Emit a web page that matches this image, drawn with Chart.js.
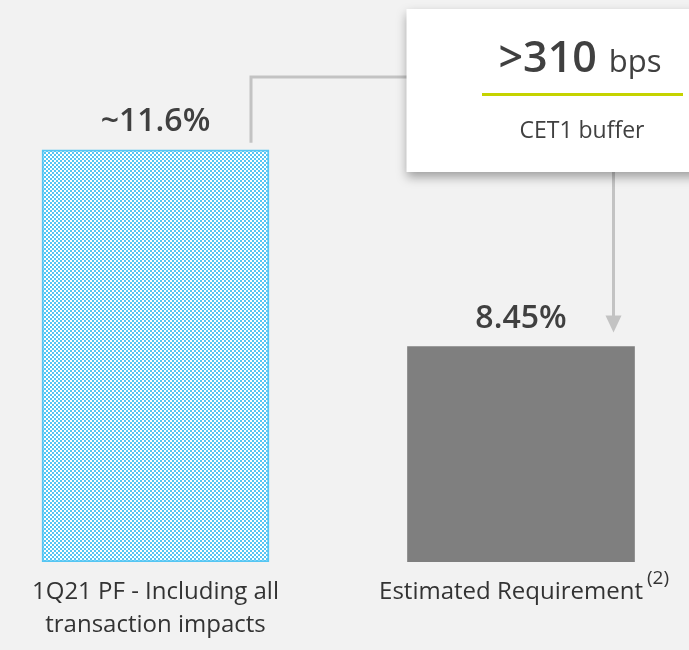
<!DOCTYPE html>
<html lang="en">
  <head>
    <title>CET1 buffer</title>
    <meta charset="utf-8" />
    <script src="https://cdn.jsdelivr.net/npm/chart.js@4.4.1/dist/chart.umd.min.js"></script>
    <style>
      html, body {
        margin: 0;
        padding: 0;
        background: #f2f2f2;
      }
      #chart {
        display: block;
      }
    </style>
  </head>
  <body>
    <canvas id="chart" width="689" height="650"></canvas>

    <script>
      // chart data
      var categories = [["1Q21 PF - Including all", "transaction impacts"], ["Estimated Requirement"]];
      var footnotes = ["", "(2)"];
      var values = [11.6, 8.45];
      var valueLabels = ["~11.6%", "8.45%"];
      var bufferValue = ">310";
      var bufferUnit = "bps";
      var bufferLabel = "CET1 buffer";

      var FONT = "'Open Sans', 'Noto Sans', sans-serif";
      var TEXT = "#404040";
      var LINE = "#c3c3c3";

      var canvas = document.getElementById("chart");
      var ctx = canvas.getContext("2d");

      // checkered fill for the first bar
      var tile = document.createElement("canvas");
      tile.width = 4;
      tile.height = 4;
      var t = tile.getContext("2d");
      t.fillStyle = "#ffffff";
      t.fillRect(0, 0, 4, 4);
      t.fillStyle = "#55c6f3";
      t.fillRect(0, 0, 2, 2);
      t.fillRect(2, 2, 2, 2);
      var checker = ctx.createPattern(tile, "repeat");

      var annotations = {
        id: "annotations",
        afterDatasetsDraw: function (chart) {
          var c = chart.ctx;
          var bars = chart.getDatasetMeta(0).data;
          var b1 = bars[0], b2 = bars[1];
          var half1 = b1.width / 2, half2 = b2.width / 2;
          var boxLeft = b2.x - half2 - 1;
          var boxTop = 9, boxBottom = 172;
          var elbowY = 77;

          c.save();

          // value labels above bars
          c.fillStyle = TEXT;
          c.textAlign = "center";
          c.textBaseline = "alphabetic";
          c.font = "600 32px " + FONT;
          bars.forEach(function (bar, i) {
            c.fillText(valueLabels[i], bar.x, bar.y - 19);
          });

          // category labels below
          c.fillStyle = "#333333";
          var base = chart.chartArea.bottom;
          bars.forEach(function (bar, i) {
            c.font = "24px " + FONT;
            var lines = categories[i];
            if (footnotes[i]) {
              var w = c.measureText(lines[0]).width;
              var x0 = bar.x - w / 2 - 10;
              c.textAlign = "left";
              c.fillText(lines[0], x0, base + 37);
              c.font = "19px " + FONT;
              c.fillText(footnotes[i], x0 + w + 4, base + 22);
              c.textAlign = "center";
            } else {
              lines.forEach(function (line, j) {
                c.fillText(line, bar.x, base + 37 + j * 33);
              });
            }
          });

          // connector from first bar to the box
          c.strokeStyle = LINE;
          c.lineWidth = 3;
          var lx = b1.x + half1 - 18;
          c.beginPath();
          c.moveTo(lx, b1.y - 7);
          c.lineTo(lx, elbowY);
          c.lineTo(boxLeft + 2, elbowY);
          c.stroke();

          // arrow from box down to second bar
          var ax = b2.x + half2 - 21;
          var tip = b2.y - 14;
          c.beginPath();
          c.moveTo(ax, boxBottom);
          c.lineTo(ax, tip - 10);
          c.stroke();
          c.fillStyle = LINE;
          c.beginPath();
          c.moveTo(ax - 8, tip - 17);
          c.lineTo(ax + 8, tip - 17);
          c.lineTo(ax, tip);
          c.closePath();
          c.fill();

          // buffer box
          c.save();
          c.shadowColor = "rgba(0,0,0,0.35)";
          c.shadowBlur = 10;
          c.shadowOffsetY = 5;
          c.fillStyle = "#ffffff";
          c.fillRect(boxLeft, boxTop, 320, boxBottom - boxTop);
          c.restore();

          var cx = 580;
          c.fillStyle = TEXT;
          c.textAlign = "left";
          c.font = "600 43px " + FONT;
          var w1 = c.measureText(bufferValue).width;
          c.font = "31px " + FONT;
          var w2 = c.measureText(bufferUnit).width;
          var gap = 12;
          var sx = cx - (w1 + gap + w2) / 2;
          c.font = "600 43px " + FONT;
          c.fillText(bufferValue, sx, 72);
          c.font = "31px " + FONT;
          c.fillText(bufferUnit, sx + w1 + gap, 72);

          c.strokeStyle = "#c5d300";
          c.lineWidth = 3;
          c.beginPath();
          c.moveTo(482, 94.5);
          c.lineTo(683, 94.5);
          c.stroke();

          c.textAlign = "center";
          c.font = "23px " + FONT;
          c.fillText(bufferLabel, 582, 138);

          c.restore();
        },
      };

      new Chart(ctx, {
        type: "bar",
        data: {
          datasets: [
            {
              data: values.map(function (v, i) {
                return { x: i, y: v };
              }),
              base: 5,
              backgroundColor: [checker, "#7f7f7f"],
              borderColor: ["#55c6f3", "#7f7f7f"],
              borderWidth: [2, 0],
              borderSkipped: false,
              barThickness: 227,
            },
          ],
        },
        options: {
          responsive: false,
          animation: false,
          layout: { padding: { top: 0, left: 0, right: 0, bottom: 88 } },
          scales: {
            x: { type: "linear", offset: false, min: -0.4254, max: 1.4596, display: false },
            y: { min: 5, max: 14, display: false },
          },
          plugins: {
            legend: { display: false },
            tooltip: { enabled: false },
          },
        },
        plugins: [annotations],
      });
    </script>
  </body>
</html>
